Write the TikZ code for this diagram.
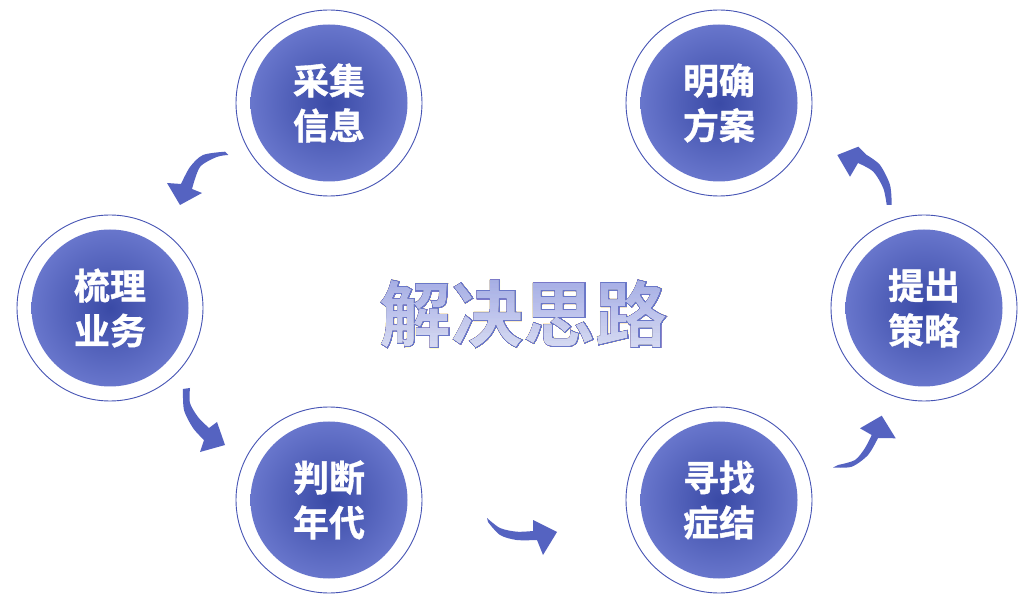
\documentclass[tikz,border=0pt]{standalone}
\usepackage{fontspec}
\newfontfamily\cjkb{Noto Sans CJK SC Bold}[FakeBold=1]
\newfontfamily\cjkt{Noto Sans CJK SC Bold}
\newfontfamily\cjkfat{Noto Sans CJK SC Bold}[FakeBold=2]
\usetikzlibrary{shadings}
\definecolor{arrowc}{RGB}{85,99,193}
\definecolor{ringc}{RGB}{70,84,180}
\definecolor{innerc}{RGB}{58,74,166}
\definecolor{outerc}{RGB}{104,118,204}
% title colours (outline, letter base, multiply gradient, dodge grey)
\definecolor{titleline}{rgb}{0.416,0.471,0.784}
\definecolor{titlebase}{rgb}{0.50,0.55,0.82}
\definecolor{multop}{rgb}{0.439,0.433,0.425}
\definecolor{multbot}{rgb}{0.759,0.696,0.482}
\definecolor{dodgec}{rgb}{0.6,0.6,0.6}
\tikzset{
  ring/.style={circle,draw=ringc,line width=0.9pt,minimum size=186pt,inner sep=0pt},
  disc/.style={circle,inner color=innerc,outer color=outerc,minimum size=157pt,inner sep=0pt,
    text=white,font=\cjkb\fontsize{36}{45}\selectfont,align=center},
  arr/.style={fill=arrowc},
  titlefont/.style={font=\cjkt\fontsize{72}{80}\selectfont,inner sep=0pt},
  titlefat/.style={font=\cjkfat\fontsize{72}{80}\selectfont,inner sep=0pt}
}
\begin{document}
\begin{tikzpicture}[x=1pt,y=-1pt]
\useasboundingbox[fill=white] (0,0) rectangle (1031,601);
% circles
\foreach \n/\x/\y/\t in {c1/329/103/{采集\\信息}, c2/110/308/{梳理\\业务}, c3/329/500/{判断\\年代},
  c4/719/500/{寻找\\症结}, c5/924/308/{提出\\策略}, c6/719/103/{明确\\方案}}{
  \node[ring] (\n r) at (\x,\y) {};
  \node[disc] (\n) at (\x,\y) {\t};
}
% title: dark outline shape, letter base, then blend passes give a vertical gradient inside the letters
\coordinate (tc) at (523.5,314);
\node[titlefat,text=black] (titleo) at (tc) {解决思路};
\node[titlefont,text=titlebase] (title) at (tc) {解决思路};
\shade[blend mode=multiply,top color=multop,bottom color=multbot]
  (373,242) rectangle (674,386);
\fill[blend mode=color dodge,dodgec] (366,235) rectangle (681,393);
\fill[blend mode=lighten,titleline] (366,235) rectangle (681,393);
% arrows
\fill[arr] plot[smooth] coordinates {(225,151.7) (203,155) (190,167) (181,184)}
  -- (167,183) -- (180,205) -- (202,193)
  -- plot[smooth] coordinates {(192,189) (200,167) (216.7,157) (228.3,155)} -- cycle;
\fill[arr] plot[smooth] coordinates {(183,389) (184,410) (193,428) (204,440)}
  -- (200,452) -- (225,445) -- (217,422)
  -- plot[smooth] coordinates {(209,428) (198,417) (190,403) (190,388)} -- cycle;
\fill[arr] plot[smooth] coordinates {(487,518) (500,528) (516.7,531.7) (533,531)}
  -- (533,520) -- (557,532) -- (543,555)
  -- plot[smooth] coordinates {(537,540) (516.7,540) (500,535) (488,522)} -- cycle;
\fill[arr] plot[smooth] coordinates {(833,467.5) (851.7,466.7) (868,455) (878,438)}
  -- (895.7,438.3) -- (881.7,415.7) -- (860,428.3)
  -- plot[smooth] coordinates {(871.7,435) (865,448) (855,460) (838,465)} -- cycle;
\fill[arr] plot[smooth] coordinates {(891.7,205) (890,185) (880,165) (866.7,155)}
  -- (858.3,146.7) -- (837.3,155) -- (850,176.7)
  -- plot[smooth] coordinates {(858,163) (873.3,171.7) (883.3,188.3) (886.7,205)} -- cycle;
\end{tikzpicture}
\end{document}
